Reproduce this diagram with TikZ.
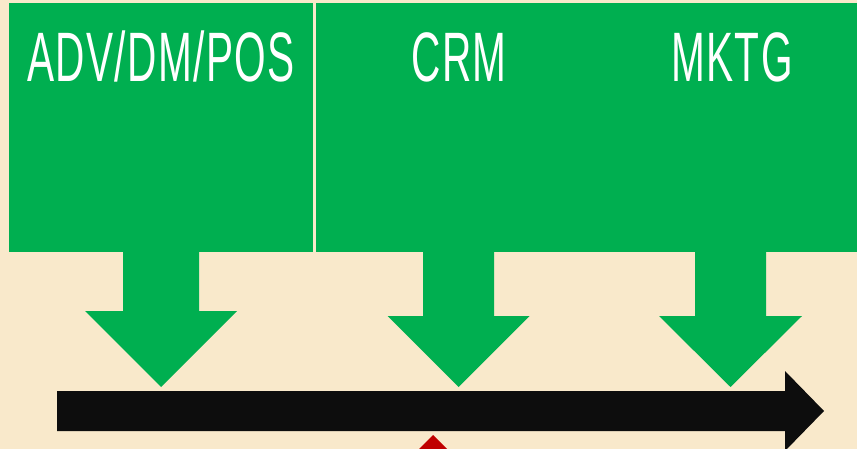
\documentclass[tikz,border=0pt]{standalone}
\usepackage{fontspec}
\usetikzlibrary{positioning}
\newfontfamily\bannerfont[FakeStretch=0.58,LetterSpace=2]{Liberation Sans}
\definecolor{paper}{HTML}{F9E9CB}
\definecolor{feedgreen}{HTML}{00AF50}
\definecolor{lineblack}{HTML}{0D0D0D}
\definecolor{markred}{HTML}{C00000}
\tikzstyle{channel} = [rectangle,fill=feedgreen,draw=none,inner sep=0pt,anchor=north west]
\tikzstyle{title} = [text=white,inner sep=0pt,anchor=base,font=\bannerfont\fontsize{70}{70}\selectfont]
% #1 centre x, #2 half shaft, #3 half head, #4 head top
\newcommand{\feedarrow}[4]{%
\fill[feedgreen] (#1-#2,250) -- (#1-#2,#4) -- (#1-#3,#4) -- (#1,387) -- (#1+#3,#4) -- (#1+#2,#4) -- (#1+#2,250) -- cycle;}

\begin{document}
\begin{tikzpicture}[x=1pt,y=-1pt]
\useasboundingbox (0,0) rectangle (857,449);
\clip (0,0) rectangle (857,449);
\fill[paper] (0,0) rectangle (857,449);

% Define nodes
\node[channel, minimum width=304pt, minimum height=249pt] (adv) at (9,3) {};
\node[channel, minimum width=541pt, minimum height=249pt] (crm) at (316,3) {};

\node[title] (tadv)  at (161,82)   {ADV/DM/POS};
\node[title] (tcrm)  at (459,82)   {CRM};
\node[title] (tmktg) at (732,82)   {MKTG};

% Arrows
\feedarrow{161}{38}{76}{311}
\feedarrow{458.5}{35.5}{71}{316}
\feedarrow{730.5}{35.5}{71.5}{316}

\fill[lineblack] (57,391) -- (785,391) -- (785,371) -- (824,411) -- (785,451) -- (785,431) -- (57,431) -- cycle;
\fill[markred] (419,449) -- (433,435) -- (447,449) -- cycle;

\end{tikzpicture}
\end{document}
